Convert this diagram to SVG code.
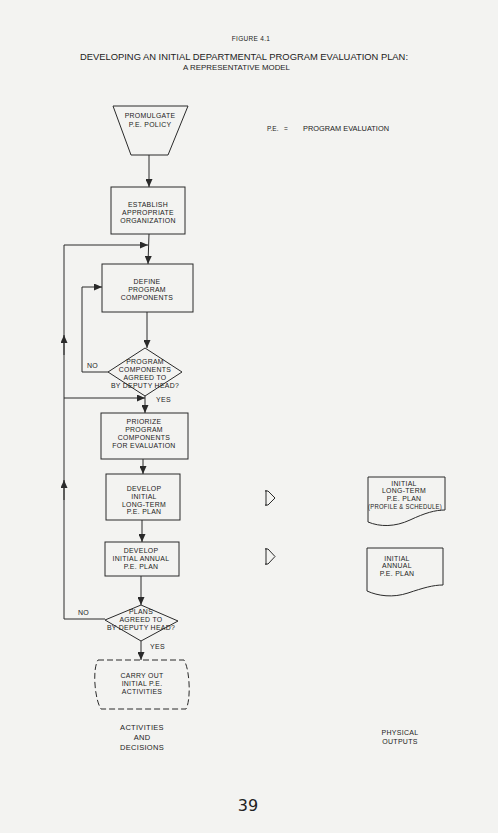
<svg xmlns="http://www.w3.org/2000/svg" width="498" height="833" viewBox="0 0 498 833">
<defs>
<style>
text{font-family:"Liberation Sans",Arial,sans-serif;fill:#222;}
.n{font-size:6.9px;letter-spacing:0.3px;text-anchor:middle;}
.l{font-size:7px;letter-spacing:0.3px;}
.shape{fill:none;stroke:#2a2a2a;stroke-width:1;}
.conn path{fill:none;stroke:#2a2a2a;stroke-width:1;}
.arr{marker-end:url(#ah);}
</style>
<marker id="ah" markerWidth="8" markerHeight="7" refX="8" refY="3.5" orient="auto" markerUnits="userSpaceOnUse"><path d="M0,0 L8,3.5 L0,7 Z" fill="#2a2a2a"/></marker>
</defs>
<rect width="498" height="833" fill="#f3f3f1"/>

<g id="title">
<text x="251" y="41" style="font-size:6.5px;text-anchor:middle;letter-spacing:0.3px">FIGURE 4.1</text>
<text x="80" y="60" style="font-size:9px" textLength="328" lengthAdjust="spacingAndGlyphs">DEVELOPING AN INITIAL DEPARTMENTAL PROGRAM EVALUATION PLAN:</text>
<text x="183" y="70" style="font-size:8px" textLength="107" lengthAdjust="spacingAndGlyphs">A REPRESENTATIVE MODEL</text>
</g>

<g id="legend">
<text x="267" y="131" style="font-size:6.5px">P.E.</text>
<text x="284" y="131" style="font-size:6.5px">=</text>
<text x="303" y="131" style="font-size:6.5px" textLength="86" lengthAdjust="spacingAndGlyphs">PROGRAM EVALUATION</text>
</g>

<g class="conn" id="connectors">
<path class="arr" d="M149,155 L149,187"/>
<path class="arr" d="M149,234 L148,264"/>
<path d="M105,619 L64,619 L64,485"/>
<path class="arr" d="M64,500 L64,480"/>
<path d="M64,485 L64,340"/>
<path class="arr" d="M64,355 L64,335"/>
<path class="arr" d="M64,340 L64,245 L148,245"/>
<path class="arr" d="M64,398 L145,398"/>
<path class="arr" d="M147,312 L147,348"/>
<path class="arr" d="M108,372 L82,372 L82,287 L102,287"/>
<path class="arr" d="M145,396 L145,413"/>
<path class="arr" d="M143,459 L143,474"/>
<path class="arr" d="M142,520 L142,542"/>
<path class="arr" d="M141,576 L141,605"/>
<path class="arr" d="M141,641 L141,660"/>
</g>

<g id="labels">
<text class="l" x="87" y="368">NO</text>
<text class="l" x="156" y="402">YES</text>
<text class="l" x="78" y="615">NO</text>
<text class="l" x="150" y="649">YES</text>
</g>

<g id="promulgate">
<path class="shape" d="M113,106 L188,106 L168,155 L131,155 Z"/>
<text class="n" x="150" y="117.5">PROMULGATE</text>
<text class="n" x="150" y="126.5">P.E. POLICY</text>
</g>

<g id="establish">
<rect class="shape" x="111" y="187" width="74" height="47"/>
<text class="n" x="148" y="207">ESTABLISH</text>
<text class="n" x="148" y="215">APPROPRIATE</text>
<text class="n" x="148" y="223">ORGANIZATION</text>
</g>

<g id="define">
<rect class="shape" x="102" y="264" width="91" height="48"/>
<text class="n" x="147" y="284">DEFINE</text>
<text class="n" x="147" y="292">PROGRAM</text>
<text class="n" x="147" y="300">COMPONENTS</text>
</g>

<g id="decision1">
<path class="shape" d="M145,348 L182,372 L145,396 L108,372 Z"/>
<text class="n" x="145" y="364">PROGRAM</text>
<text class="n" x="145" y="372">COMPONENTS</text>
<text class="n" x="145" y="380">AGREED TO</text>
<text class="n" x="145" y="388">BY DEPUTY HEAD?</text>
</g>

<g id="priorize">
<rect class="shape" x="101" y="413" width="87" height="46"/>
<text class="n" x="144" y="424">PRIORIZE</text>
<text class="n" x="144" y="432">PROGRAM</text>
<text class="n" x="144" y="440">COMPONENTS</text>
<text class="n" x="144" y="448">FOR EVALUATION</text>
</g>

<g id="longterm">
<rect class="shape" x="106" y="474" width="74" height="46"/>
<text class="n" x="144" y="491">DEVELOP</text>
<text class="n" x="144" y="499">INITIAL</text>
<text class="n" x="144" y="506.5">LONG-TERM</text>
<text class="n" x="144" y="514">P.E. PLAN</text>
</g>

<g id="annual">
<rect class="shape" x="105" y="542" width="74" height="34"/>
<text class="n" x="141" y="553">DEVELOP</text>
<text class="n" x="141" y="561">INITIAL ANNUAL</text>
<text class="n" x="141" y="568.5">P.E. PLAN</text>
</g>

<g id="decision2">
<path class="shape" d="M141,605 L178,621 L141,641 L105,620 Z"/>
<text class="n" x="141" y="614">PLANS</text>
<text class="n" x="141" y="622">AGREED TO</text>
<text class="n" x="141" y="629.5">BY DEPUTY HEAD?</text>
</g>

<g id="carryout">
<path class="shape" stroke-dasharray="6 3" d="M98,660 L184,660 C190,670 191,700 186,709 L101,709 C95,700 92,670 98,660 Z"/>
<text class="n" x="142" y="678">CARRY OUT</text>
<text class="n" x="142" y="686">INITIAL P.E.</text>
<text class="n" x="142" y="693.5">ACTIVITIES</text>
</g>

<g id="arrow1">
<path class="shape" d="M266,490 L266,506 M265,491 L268,491 L275,498 L268,505 L265,505"/>
</g>
<g id="arrow2">
<path class="shape" d="M266,548 L266,565 M265,549 L268,549 L275,556.5 L268,564 L265,564"/>
</g>

<g id="doc1">
<path class="shape" d="M368,477 L445,477 L445,510 C435,510 425,513 410,520 C395,527 380,527 368,522 Z"/>
<text class="n" x="404" y="486">INITIAL</text>
<text class="n" x="404" y="493">LONG-TERM</text>
<text class="n" x="404" y="501">P.E. PLAN</text>
<text class="n" x="405" y="509" textLength="74" lengthAdjust="spacingAndGlyphs">(PROFILE &amp; SCHEDULE)</text>
</g>

<g id="doc2">
<path class="shape" d="M367,548 L443,548 L443,585 C433,585 423,588 408,593 C393,598 378,596 367,591 Z"/>
<text class="n" x="397" y="561">INITIAL</text>
<text class="n" x="397" y="568">ANNUAL</text>
<text class="n" x="397" y="576">P.E. PLAN</text>
</g>

<g id="footer">
<text x="142" y="730" style="font-size:7.5px;text-anchor:middle;letter-spacing:0.3px">ACTIVITIES</text>
<text x="142" y="740" style="font-size:7.5px;text-anchor:middle;letter-spacing:0.3px">AND</text>
<text x="142" y="750" style="font-size:7.5px;text-anchor:middle;letter-spacing:0.3px">DECISIONS</text>
<text x="400" y="735" style="font-size:7px;text-anchor:middle;letter-spacing:0.3px">PHYSICAL</text>
<text x="400" y="744" style="font-size:7px;text-anchor:middle;letter-spacing:0.3px">OUTPUTS</text>
<text x="248" y="811" style="font-size:16px;text-anchor:middle;font-family:'DejaVu Sans',sans-serif">39</text>
</g>
</svg>
